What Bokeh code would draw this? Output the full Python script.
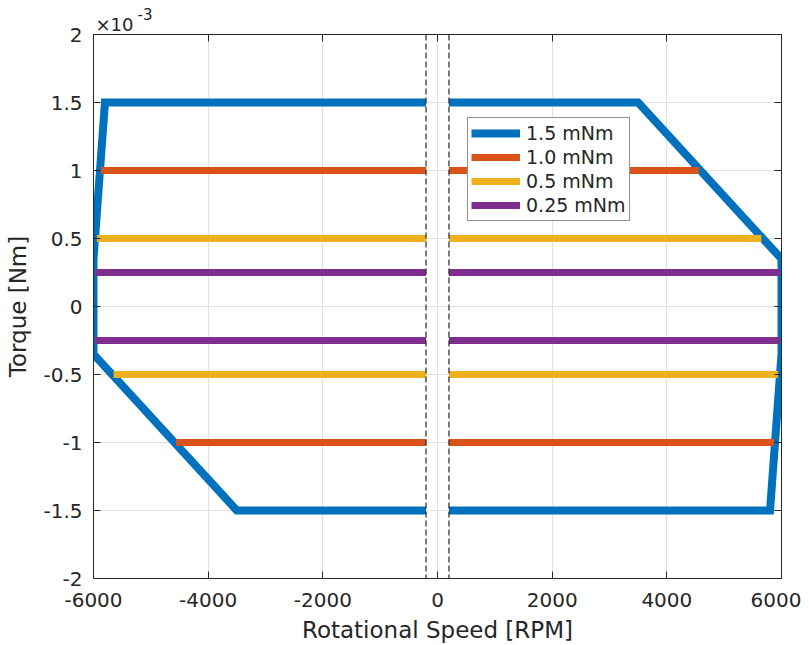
import math
from bokeh.plotting import figure
from bokeh.models import Range1d, FixedTicker, CustomJSTickFormatter, LinearAxis, Span, Title, Legend, LegendItem
from bokeh.embed import file_html
from bokeh.resources import INLINE

NAN = float("nan")

# Rotational speed [RPM] and torque [Nm] for each operating envelope (NaN = gap)
blue_x = [200, 3500, 6000, 6000, 5800, 200, NAN, -200, -3500, -6000, -6000, -5800, -200]
blue_y = [1.5e-3, 1.5e-3, 0.35e-3, -0.35e-3, -1.5e-3, -1.5e-3, NAN,
          -1.5e-3, -1.5e-3, -0.35e-3, 0.35e-3, 1.5e-3, 1.5e-3]

orange_x = [-5870, -200, NAN, 200, 4560, NAN, -4560, -200, NAN, 200, 5870]
orange_y = [1.0e-3, 1.0e-3, NAN, 1.0e-3, 1.0e-3, NAN, -1.0e-3, -1.0e-3, NAN, -1.0e-3, -1.0e-3]

yellow_x = [-5940, -200, NAN, 200, 5650, NAN, -5650, -200, NAN, 200, 5940]
yellow_y = [0.5e-3, 0.5e-3, NAN, 0.5e-3, 0.5e-3, NAN, -0.5e-3, -0.5e-3, NAN, -0.5e-3, -0.5e-3]

purple_x = [-5970, -200, NAN, 200, 5970, NAN, -5970, -200, NAN, 200, 5970]
purple_y = [0.25e-3, 0.25e-3, NAN, 0.25e-3, 0.25e-3, NAN, -0.25e-3, -0.25e-3, NAN, -0.25e-3, -0.25e-3]

series_labels = ["1.5 mNm", "1.0 mNm", "0.5 mNm", "0.25 mNm"]
series_colors = ["#0072BD", "#D95319", "#EDB120", "#7E2F8E"]

dead_band = [-200, 200]
x_ticks = [-6000, -4000, -2000, 0, 2000, 4000, 6000]
y_ticks = [-2e-3, -1.5e-3, -1e-3, -0.5e-3, 0, 0.5e-3, 1e-3, 1.5e-3, 2e-3]

FONT = "DejaVu Sans"
TXT = "#262626"

p = figure(width=801, height=637, output_backend="svg", toolbar_location=None,
           x_range=Range1d(-6000, 6000), y_range=Range1d(-2e-3, 2e-3),
           x_axis_label="Rotational Speed [RPM]", y_axis_label="Torque [Nm]",
           min_border_left=93, min_border_right=20, min_border_top=34, min_border_bottom=59)
p.frame_width = 688
p.frame_height = 544
p.background_fill_color = "white"
p.border_fill_color = "white"
p.outline_line_color = TXT

fmt_y = CustomJSTickFormatter(code="const v = Math.round(tick*1e4)/10; return v.toString();")
fmt_x = CustomJSTickFormatter(code="return Math.round(tick).toString();")
for ax in p.xaxis:
    ax.ticker = FixedTicker(ticks=x_ticks)
    ax.formatter = fmt_x
for ax in p.yaxis:
    ax.ticker = FixedTicker(ticks=y_ticks)
    ax.formatter = fmt_y

for ax in list(p.xaxis) + list(p.yaxis):
    ax.axis_line_color = TXT
    ax.major_tick_line_color = TXT
    ax.major_tick_in = 7
    ax.major_tick_out = 0
    ax.minor_tick_line_color = None
    ax.major_label_text_font = FONT
    ax.major_label_text_font_size = "20px"
    ax.major_label_text_color = TXT
    ax.axis_label_text_font = FONT
    ax.axis_label_text_font_size = "23px"
    ax.axis_label_text_font_style = "normal"
    ax.axis_label_text_color = TXT
p.xaxis.major_label_standoff = 14
p.xaxis.axis_label_standoff = 7
p.yaxis.major_label_standoff = 11
p.yaxis.axis_label_standoff = 9

blank = CustomJSTickFormatter(code="return '';")
top_ax = LinearAxis(ticker=FixedTicker(ticks=x_ticks), formatter=blank, major_tick_in=7, major_tick_out=0,
                    axis_line_color=TXT, major_tick_line_color=TXT, minor_tick_line_color=None,
                    major_label_text_font_size="1px", major_label_standoff=0)
right_ax = LinearAxis(ticker=FixedTicker(ticks=y_ticks), formatter=blank, major_tick_in=7, major_tick_out=0,
                      axis_line_color=TXT, major_tick_line_color=TXT, minor_tick_line_color=None,
                      major_label_text_font_size="1px", major_label_standoff=0)
p.add_layout(top_ax, "above")
p.add_layout(right_ax, "right")

# axis exponent "×10^-3"
p.add_layout(Title(text="×10", align="left", offset=2, standoff=0, text_font=FONT,
                   text_font_size="18px", text_font_style="normal", text_color=TXT), "above")
p.add_layout(Title(text="-3", align="left", offset=44, standoff=-16, text_font=FONT,
                   text_font_size="15px", text_font_style="normal", text_color=TXT), "above")

p.xgrid.ticker = FixedTicker(ticks=x_ticks)
p.ygrid.ticker = FixedTicker(ticks=y_ticks)
p.grid.grid_line_color = "#e0e0e0"
p.grid.grid_line_width = 1

for v in dead_band:
    p.add_layout(Span(location=v, dimension="height", line_color=TXT, line_width=1.2, line_dash="6 3"))

renderers = []
data = [(blue_x, blue_y, 8), (orange_x, orange_y, 7), (yellow_x, yellow_y, 7), (purple_x, purple_y, 7)]
for (xs, ys, w), c in zip(data, series_colors):
    r = p.line(xs, ys, line_color=c, line_width=w, line_join="miter", line_cap="butt")
    renderers.append(r)

legend = Legend(items=[LegendItem(label=l, renderers=[r]) for l, r in zip(series_labels, renderers)],
                location=(374, 357))
legend.label_text_font = FONT
legend.label_text_font_size = "19px"
legend.label_text_color = TXT
legend.glyph_width = 49
legend.glyph_height = 24
legend.label_height = 24
legend.spacing = 0
legend.padding = 3
legend.margin = 0
legend.label_standoff = 6
legend.border_line_color = TXT
legend.border_line_width = 1
legend.background_fill_alpha = 1
p.add_layout(legend, "center")

open("out.html", "w").write(file_html(p, INLINE))
